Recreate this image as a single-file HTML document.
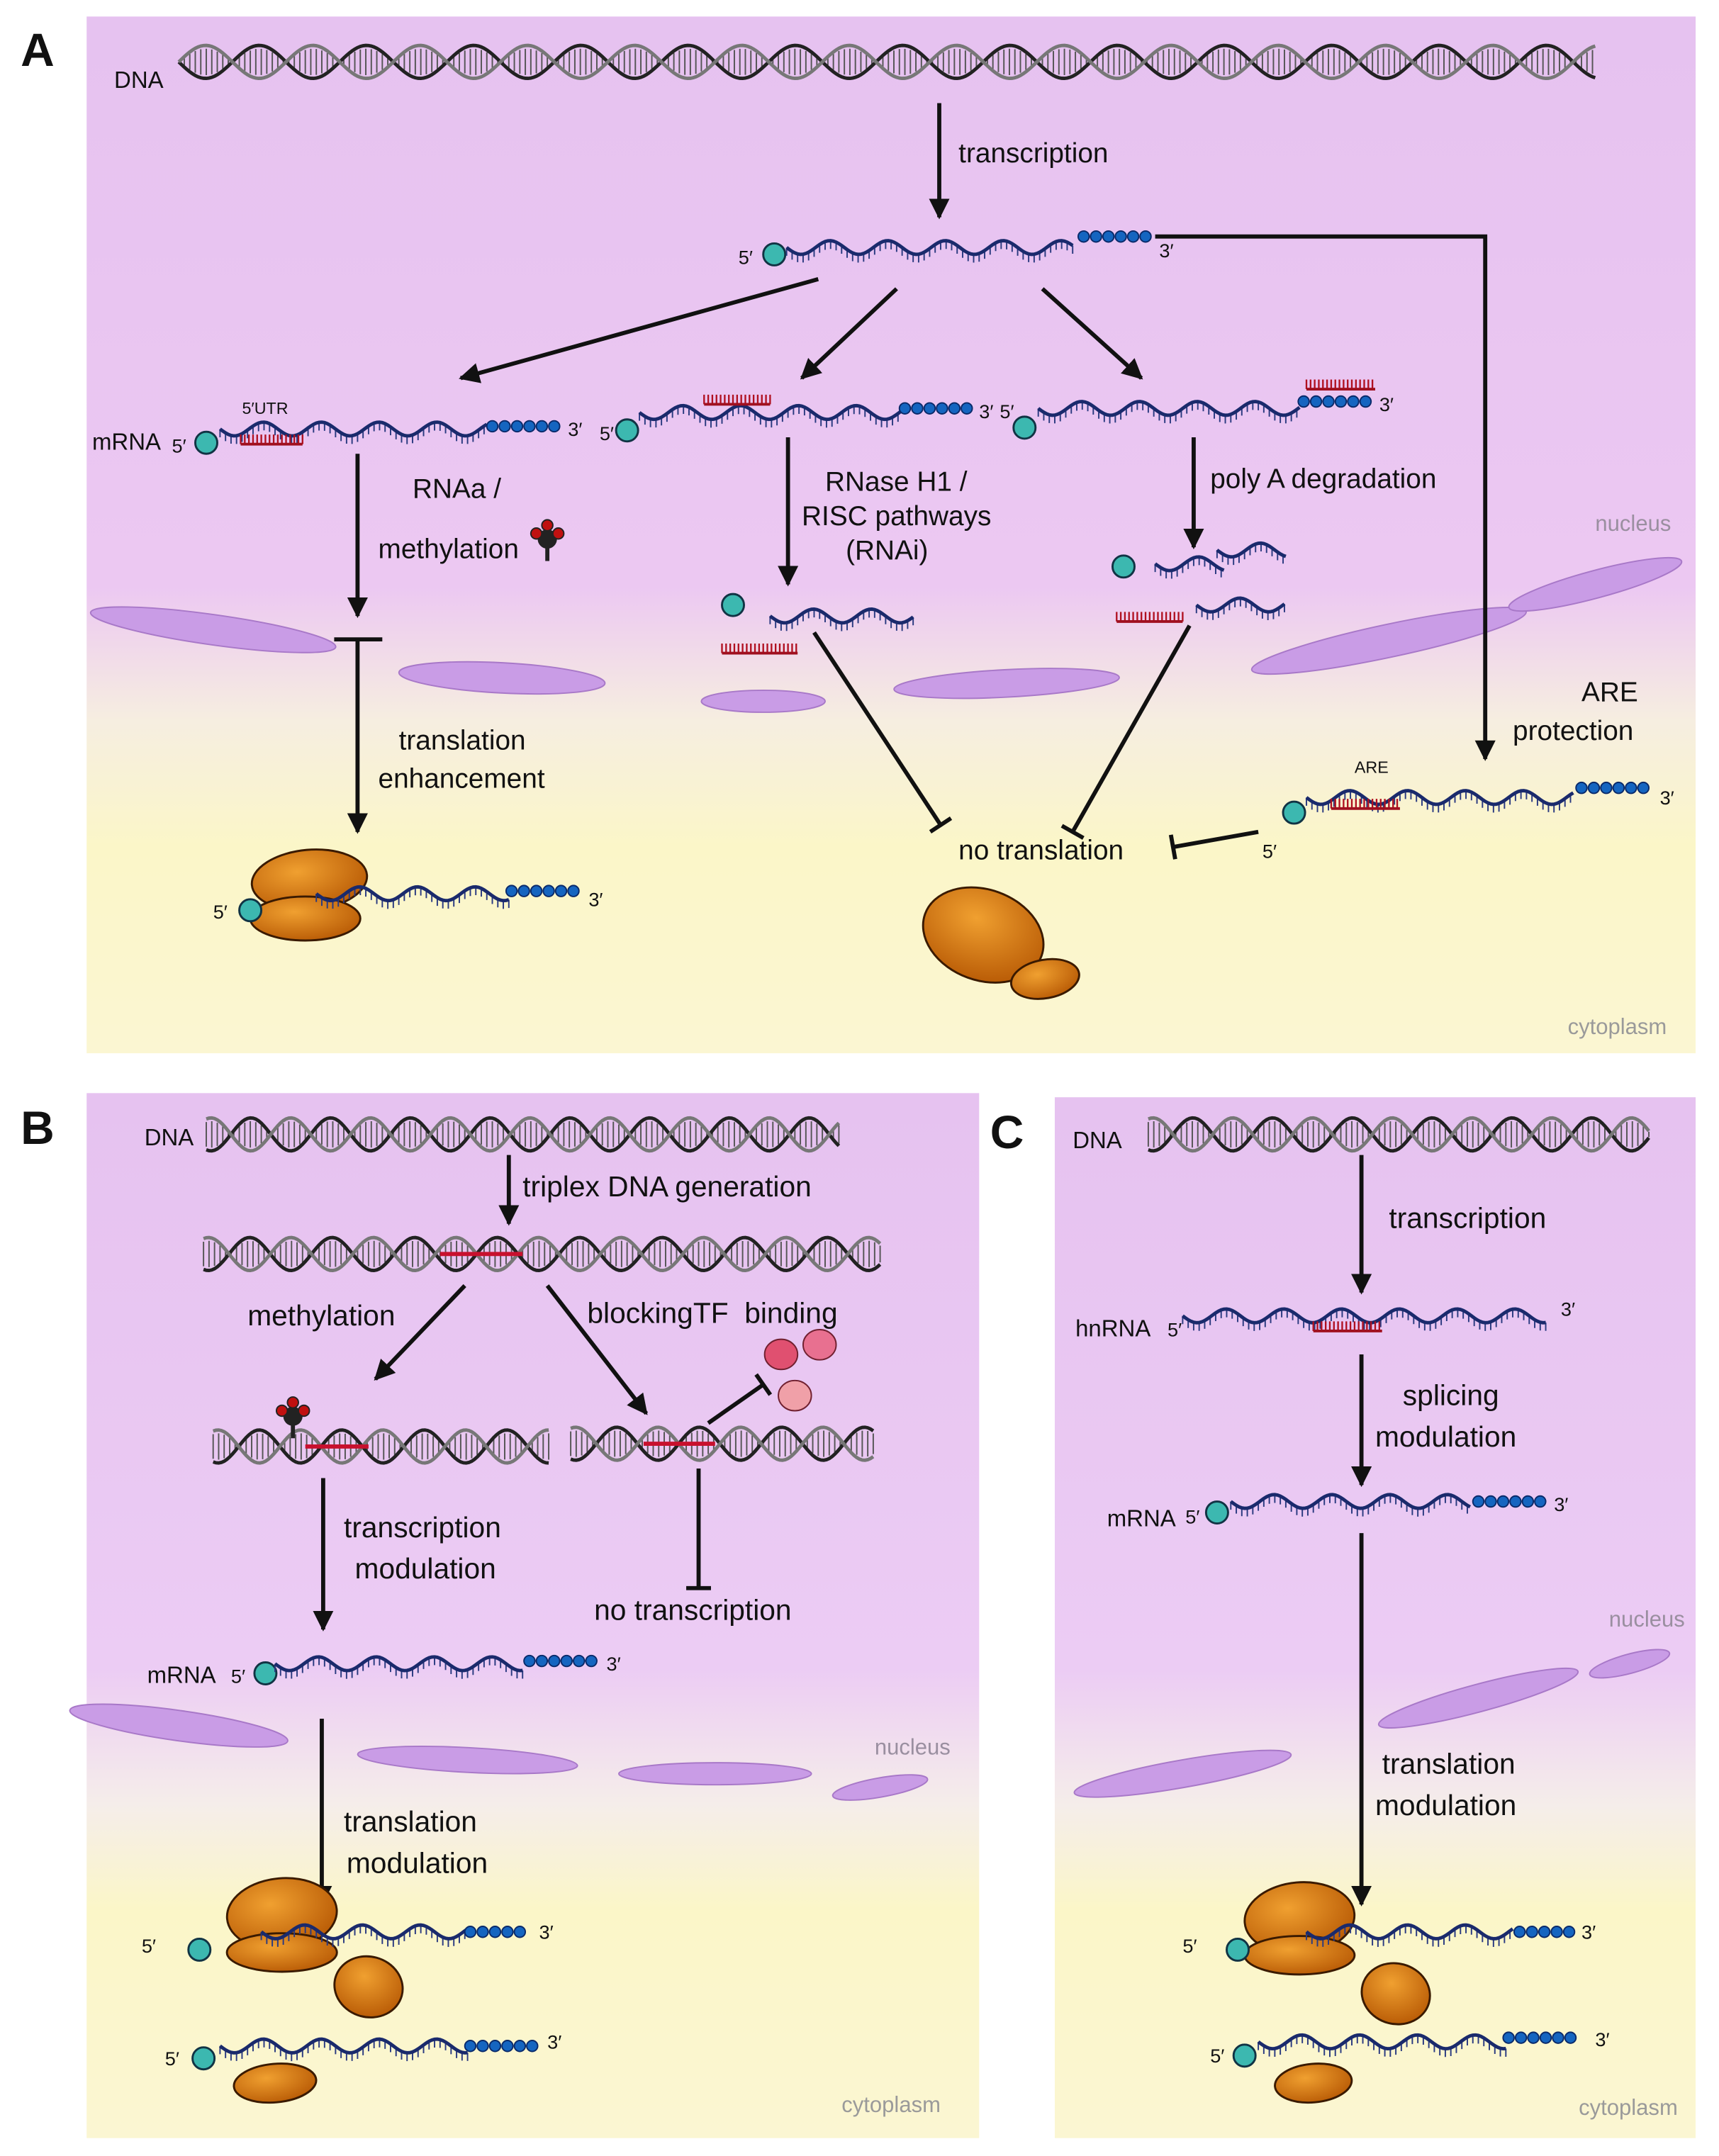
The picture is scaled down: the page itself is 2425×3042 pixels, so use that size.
<!DOCTYPE html>
<html><head><meta charset="utf-8">
<style>
html,body{margin:0;padding:0;background:#fff}
svg{display:block}
text{font-family:"Liberation Sans",sans-serif;fill:#111}
</style></head>
<body>
<svg id="s" width="2425" height="3042" viewBox="0 0 1250 1568" xmlns="http://www.w3.org/2000/svg">
<defs>
<linearGradient id="gA" x1="0" y1="0" x2="0" y2="1">
<stop offset="0" stop-color="#e6c2f0"/><stop offset="0.55" stop-color="#ecc8f2"/><stop offset="0.68" stop-color="#f6eee0"/><stop offset="0.8" stop-color="#fbf6c8"/><stop offset="1" stop-color="#fbf6d2"/></linearGradient>
<linearGradient id="gB" x1="0" y1="0" x2="0" y2="1">
<stop offset="0" stop-color="#e6c2f0"/><stop offset="0.55" stop-color="#ecccf4"/><stop offset="0.68" stop-color="#f5edea"/><stop offset="0.78" stop-color="#fbf6c8"/><stop offset="1" stop-color="#fbf6d2"/></linearGradient>
<radialGradient id="rib" cx="0.4" cy="0.35" r="0.7"><stop offset="0" stop-color="#f0a030"/><stop offset="1" stop-color="#b85a05"/></radialGradient>
<marker id="ar" viewBox="0 0 10 10" refX="9" refY="5" markerWidth="5" markerHeight="5" orient="auto"><path d="M0,0L10,5L0,10z" fill="#111"/></marker>
</defs>
<rect x="63" y="12" width="1170" height="754" fill="url(#gA)"/>
<rect x="63" y="795" width="649" height="760" fill="url(#gB)"/>
<rect x="767" y="798" width="466" height="757" fill="url(#gB)"/>
<g id="g"></g>
<g font-size="20">
<text x="15" y="48" font-size="34" font-weight="bold">A</text>
<text x="15" y="832" font-size="34" font-weight="bold">B</text>
<text x="720" y="835" font-size="34" font-weight="bold">C</text>
<text x="83" y="64" font-size="17">DNA</text>
<text x="697" y="118">transcription</text>
<text x="537" y="192" font-size="14">5′</text><text x="843" y="187" font-size="14">3′</text>
<text x="67" y="327" font-size="17">mRNA</text><text x="125" y="329" font-size="14">5′</text><text x="413" y="317" font-size="14">3′</text>
<text x="176" y="301" font-size="12">5′UTR</text>
<text x="436" y="320" font-size="14">5′</text><text x="712" y="304" font-size="14">3′</text>
<text x="727" y="304" font-size="14">5′</text><text x="1003" y="299" font-size="14">3′</text>
<text x="300" y="362">RNAa /</text><text x="275" y="406">methylation</text>
<text x="290" y="545">translation</text><text x="275" y="573">enhancement</text>
<text x="600" y="357">RNase H1 /</text><text x="583" y="382">RISC pathways</text><text x="615" y="407">(RNAi)</text>
<text x="880" y="355">poly A degradation</text>
<text x="697" y="625">no translation</text>
<text x="1150" y="510">ARE</text><text x="1100" y="538">protection</text>
<text x="985" y="562" font-size="12">ARE</text>
<text x="918" y="624" font-size="14">5′</text><text x="1207" y="585" font-size="14">3′</text>
<text x="155" y="668" font-size="14">5′</text><text x="428" y="659" font-size="14">3′</text>
<text x="1160" y="386" font-size="16" style="fill:#9a8fa0">nucleus</text>
<text x="1140" y="752" font-size="16" style="fill:#9a9a9a">cytoplasm</text>
<text x="105" y="833" font-size="17">DNA</text>
<text x="380" y="870" font-size="21">triplex DNA generation</text>
<text x="180" y="964" font-size="21">methylation</text>
<text x="427" y="962" font-size="21">blockingTF&#160;&#160;binding</text>
<text x="432" y="1178" font-size="21">no transcription</text>
<text x="250" y="1118" font-size="21">transcription</text><text x="258" y="1148" font-size="21">modulation</text>
<text x="107" y="1224" font-size="17">mRNA</text><text x="168" y="1224" font-size="14">5′</text><text x="441" y="1215" font-size="14">3′</text>
<text x="636" y="1276" font-size="16" style="fill:#9a8fa0">nucleus</text>
<text x="250" y="1332" font-size="21">translation</text><text x="252" y="1362" font-size="21">modulation</text>
<text x="103" y="1420" font-size="14">5′</text><text x="392" y="1410" font-size="14">3′</text>
<text x="120" y="1502" font-size="14">5′</text><text x="398" y="1490" font-size="14">3′</text>
<text x="612" y="1536" font-size="16" style="fill:#9a9a9a">cytoplasm</text>
<text x="780" y="835" font-size="17">DNA</text>
<text x="1010" y="893" font-size="21">transcription</text>
<text x="782" y="972" font-size="17">hnRNA</text><text x="849" y="972" font-size="14">5′</text><text x="1135" y="957" font-size="14">3′</text>
<text x="1020" y="1022" font-size="21">splicing</text><text x="1000" y="1052" font-size="21">modulation</text>
<text x="805" y="1110" font-size="17">mRNA</text><text x="862" y="1108" font-size="14">5′</text><text x="1130" y="1099" font-size="14">3′</text>
<text x="1170" y="1183" font-size="16" style="fill:#9a8fa0">nucleus</text>
<text x="1005" y="1290" font-size="21">translation</text><text x="1000" y="1320" font-size="21">modulation</text>
<text x="860" y="1420" font-size="14">5′</text><text x="1150" y="1410" font-size="14">3′</text>
<text x="880" y="1500" font-size="14">5′</text><text x="1160" y="1488" font-size="14">3′</text>
<text x="1148" y="1538" font-size="16" style="fill:#9a9a9a">cytoplasm</text>
</g>
</svg>
<script>
const NS="http://www.w3.org/2000/svg",G=document.getElementById('g');
function el(t,a){const e=document.createElementNS(NS,t);for(const k in a)e.setAttribute(k,a[k]);G.appendChild(e);return e;}
function env(cx,cy,rx,ry,r){el('ellipse',{cx,cy,rx,ry,fill:'#c99ce6',stroke:'#a878c8','stroke-width':1,transform:`rotate(${r} ${cx} ${cy})`});}
function dna(x1,x2,y,red,P,ph){const A=12;P=P||58;ph=ph||0;let d1='',d2='',r='';
for(let x=x1;x<=x2;x+=2){const a=Math.sin((x-x1)/P*2*Math.PI+ph)*A;d1+=(x==x1?'M':'L')+x+','+(y+a);d2+=(x==x1?'M':'L')+x+','+(y-a);
if((x-x1)%4==0)r+=`M${x},${y+a*0.8}L${x},${y-a*0.8}`;}
el('path',{d:r,stroke:'#555','stroke-width':1,fill:'none'});
el('path',{d:d1,stroke:'#222','stroke-width':2.5,fill:'none'});el('path',{d:d2,stroke:'#777','stroke-width':2.5,fill:'none'});
if(red)el('line',{x1:red[0],y1:y,x2:red[1],y2:y,stroke:'#c8102e','stroke-width':3});}
function rna(x1,x2,y){let d='',t='';for(let x=x1;x<=x2;x+=2){const a=Math.sin((x-x1)/42*2*Math.PI)*5;d+=(x==x1?'M':'L')+x+','+(y+a);if((x-x1)%4==0)t+=`M${x},${y+a}l0,6`;}
el('path',{d:t,stroke:'#2a3a80','stroke-width':1,fill:'none'});el('path',{d,stroke:'#1a2a6c','stroke-width':2.5,fill:'none'});}
function cap(x,y){el('circle',{cx:x,cy:y,r:8,fill:'#3cb8b0',stroke:'#134','stroke-width':1.5});}
function beads(x1,x2,y){for(let x=x1;x<=x2;x+=9)el('circle',{cx:x,cy:y,r:4,fill:'#1565c0',stroke:'#0a2a6a','stroke-width':1});}
function oligo(x1,x2,y){let t='';for(let x=x1;x<=x2;x+=3)t+=`M${x},${y}l0,-7`;el('path',{d:t,stroke:'#b01020','stroke-width':1.2});el('line',{x1,y1:y,x2,y2:y,stroke:'#a01020','stroke-width':2});}
function mrna(c,x1,x2,y,b1,b2,by){if(c)cap(c[0],c[1]);rna(x1,x2,y);if(b1)beads(b1,b2,by);}
function arr(x1,y1,x2,y2){el('line',{x1,y1,x2,y2,stroke:'#111','stroke-width':3,'marker-end':'url(#ar)'});}
function inh(x1,y1,x2,y2){el('line',{x1,y1,x2,y2,stroke:'#111','stroke-width':3});const dx=x2-x1,dy=y2-y1,L=Math.hypot(dx,dy),nx=-dy/L*9,ny=dx/L*9;el('line',{x1:x2+nx,y1:y2+ny,x2:x2-nx,y2:y2-ny,stroke:'#111','stroke-width':3});}
function rib(cx,cy,rx,ry,r){el('ellipse',{cx,cy,rx,ry,fill:'url(#rib)',stroke:'#3a1a00','stroke-width':1.5,transform:`rotate(${r||0} ${cx} ${cy})`});}
function meth(x,y){el('line',{x1:x,y1:y,x2:x,y2:y+16,stroke:'#222','stroke-width':3});el('circle',{cx:x,cy:y,r:7,fill:'#222'});[[-8,-4],[8,-4],[0,-10]].forEach(p=>el('circle',{cx:x+p[0],cy:y+p[1],r:4,fill:'#c01010',stroke:'#222'}));}
function tf(x,y,c){el('ellipse',{cx:x,cy:y,rx:12,ry:11,fill:c,stroke:'#702030'});}
env(155,458,90,11,8);env(365,493,75,11,3);env(555,510,45,8,0);env(732,497,82,10,-3);env(1010,466,102,12,-12);env(1160,425,65,10,-15);
env(130,1255,80,11,8);env(340,1280,80,9,3);env(520,1290,70,8,0);env(640,1300,35,7,-10);
env(860,1290,80,10,-10);env(1075,1235,75,10,-15);env(1185,1210,30,7,-15);
dna(130,1160,45,null,78);arr(683,75,683,158);
mrna([563,185],572,780,180,788,835,172);
el('polyline',{points:'840,172 1080,172 1080,552',fill:'none',stroke:'#111','stroke-width':3,'marker-end':'url(#ar)'});
arr(595,203,335,275);arr(652,210,583,275);arr(758,210,830,275);
mrna([150,322],160,355,312,358,410,310);oligo(175,220,323);
mrna([456,313],465,655,300,658,708,297);oligo(512,560,294);
mrna([745,311],755,945,297,948,998,292);oligo(950,1000,283);
arr(260,330,260,448);meth(398,392);
el('line',{x1:243,y1:465,x2:278,y2:465,stroke:'#111','stroke-width':3});arr(260,465,260,605);
rib(225,640,42,22,-5);rib(222,668,40,16,0);mrna([182,662],230,370,650,372,422,648);
arr(573,318,573,425);cap(533,440);rna(560,665,448);oligo(525,580,475);
arr(868,318,868,398);cap(817,412);rna(840,890,410);rna(885,935,400);rna(870,935,440);oligo(812,860,452);
inh(592,460,684,600);inh(865,455,780,605);inh(915,605,853,616);
mrna([941,591],950,1145,580,1150,1202,573);oligo(968,1018,588);
rib(715,680,45,33,20);rib(760,712,25,14,-10);
dna(150,610,825,null,58,1.2);arr(370,840,370,890);dna(148,640,912,[320,380],60,1.2);
arr(338,935,273,1003);arr(398,935,470,1028);
dna(155,400,1052,[222,268],60,1.2);meth(213,1030);dna(415,635,1050,[468,520],60,1.2);
tf(568,985,'#e05070');tf(596,978,'#e87090');tf(578,1015,'#f0a0a8');
inh(515,1035,555,1007);inh(508,1068,508,1155);
arr(235,1075,235,1185);mrna([193,1217],200,380,1210,385,437,1208);
arr(234,1250,234,1385);
rib(205,1392,40,26,-5);rib(205,1420,40,14,0);mrna([145,1418],190,340,1405,342,385,1405);rib(268,1445,25,22,15);
mrna([148,1497],160,340,1488,342,392,1488);rib(200,1515,30,14,-5);
dna(835,1200,825,null,58,1.2);arr(990,840,990,940);rna(860,1125,957);oligo(955,1005,968);
arr(990,985,990,1080);mrna([885,1100],895,1070,1092,1075,1127,1092);
arr(990,1115,990,1385);
rib(945,1395,40,26,-5);rib(945,1422,40,14,0);mrna([900,1418],950,1100,1405,1105,1145,1405);rib(1015,1450,25,22,15);
mrna([905,1495],915,1095,1485,1097,1150,1482);rib(955,1515,28,14,-5);
</script>
</body></html>
